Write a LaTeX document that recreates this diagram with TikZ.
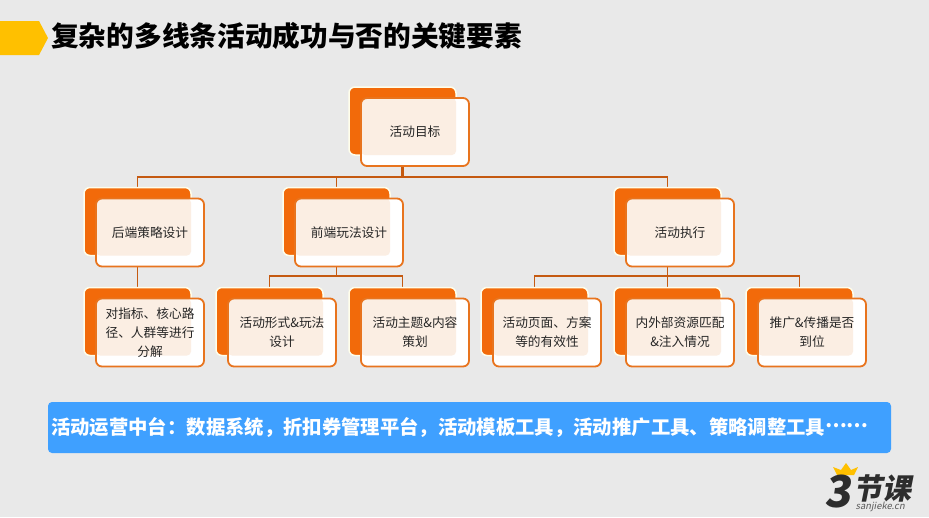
\documentclass[tikz,border=0pt]{standalone}
\usepackage{fontspec}
\setmainfont{Noto Sans CJK SC}
\usepackage{xcolor}
\usetikzlibrary{calc,positioning}
\definecolor{tagyellow}{HTML}{FFC000}
\definecolor{cardorange}{HTML}{F26A0A}
\definecolor{cardline}{HTML}{E8741E}
\definecolor{cardpeach}{HTML}{FBEEE3}
\definecolor{linkbrown}{HTML}{C55A11}
\definecolor{bandblue}{HTML}{3FA0FF}
\definecolor{logodark}{HTML}{2D2D2D}
\tikzset{
  cardbk/.style={draw=white!92!yellow,line width=1.5pt,fill=cardorange,rounded corners=6pt,
    minimum width=107pt,minimum height=68pt,inner sep=0pt},
  cardfr/.style={draw=cardline,line width=1.8pt,fill=white,rounded corners=6pt,
    minimum width=108pt,minimum height=68pt,inner sep=0pt,text width=92pt,align=center,
    text=black!85,font=\fontsize{12.7}{19}\selectfont,
    path picture={\fill[cardpeach,rounded corners=4pt] (path picture bounding box.north west) rectangle ++(95,57);}},
  link/.style={draw=linkbrown,line width=1.8pt},
}
\begin{document}
\begin{tikzpicture}[x=1pt,y=-1pt]
  \useasboundingbox (0,0) rectangle (929,517);
  \fill[black!8.5] (0,0) rectangle (929,517);
  % title
  \fill[tagyellow] (0,21) -- (39,21) -- (48,38) -- (39,55) -- (0,55) -- cycle;
  \node[anchor=west,inner sep=0pt,font=\fontsize{27.7}{32}\selectfont\bfseries] (title) at (51,36) {复杂的多线条活动成功与否的关键要素};
  % connectors first, cards go over them
  \coordinate (rootbus) at (402.5,177);
  \coordinate (playbus) at (336.5,276);
  \coordinate (execbus) at (667.5,276);
  \foreach \n/\x/\y in {root/402.5/121,strat/137.5/221.5,play/336.5/221.5,exec/667.5/221.5,
      kpi/137.5/321.5,form/269.5/321.5,theme/402.5/321.5,page/534.5/321.5,res/667.5/321.5,push/799.5/321.5}
    \coordinate (\n top) at (\x,\y-34);
  \draw[link,line width=2.6pt] (402.5,160) -- (rootbus);
  \draw[link] (strattop) |- (rootbus) -| (exectop);
  \draw[link] (rootbus) -| (playtop);
  \draw[link] (137.5,255) -- (kpitop);
  \draw[link] (336.5,255) -- (playbus);
  \draw[link] (formtop) |- (playbus) -| (themetop);
  \draw[link] (667.5,255) -- (execbus);
  \draw[link] (pagetop) |- (execbus) -| (pushtop);
  \draw[link] (execbus) -- (restop);
  % cards
  \foreach \n/\x/\y/\t in {root/415/132/{活动目标},
      strat/150/232.5/{后端策略设计},
      play/349/232.5/{前端玩法设计},
      exec/680/232.5/{活动执行},
      kpi/150/332.5/{对指标、核心路\\径、人群等进行\\分解},
      form/282/332.5/{活动形式\&玩法\\设计},
      theme/415/332.5/{活动主题\&内容\\策划},
      page/547/332.5/{活动页面、方案\\等的有效性},
      res/680/332.5/{内外部资源匹配\\\&注入情况},
      push/812/332.5/{推广\&传播是否\\到位}}{
    \node[cardbk] (\n bk) at (\x-12.5,\y-11) {};
    \node[cardfr] (\n) at (\x,\y) {\t};
  }
  % band
  \node[fill=bandblue,rounded corners=4pt,minimum width=843pt,minimum height=51pt,inner sep=0pt] (band) at (469.5,427.5) {};
  \node[anchor=west,inner sep=0pt,text=white,font=\fontsize{19.35}{24}\selectfont\bfseries] (bandtext) at (51,427) {活动运营中台：数据系统，折扣券管理平台，活动模板工具，活动推广工具、策略调整工具\raisebox{.36em}{……}};
  % logo
  \fill[tagyellow] (837,475) -- (833,467) -- (841,470) -- (846,463) -- (851,470) -- (858,467) -- (854,475) -- cycle;
  \node[inner sep=0pt,text=logodark,xslant=.15,font=\fontsize{44}{44}\selectfont\bfseries] (logothree) at (840.5,492) {3};
  \node[anchor=west,inner sep=0pt,text=logodark,text height=22pt,text depth=2pt,xslant=.2,font=\fontsize{29}{29}\selectfont\bfseries] (logoname) at (855,489) {节课};
  \node[anchor=west,inner sep=0pt,text=black!65,text height=6pt,text depth=1pt,xslant=.2,font=\fontsize{9.4}{10}\selectfont] (logourl) at (856,507) {sanjieke.cn};
\end{tikzpicture}
\end{document}
